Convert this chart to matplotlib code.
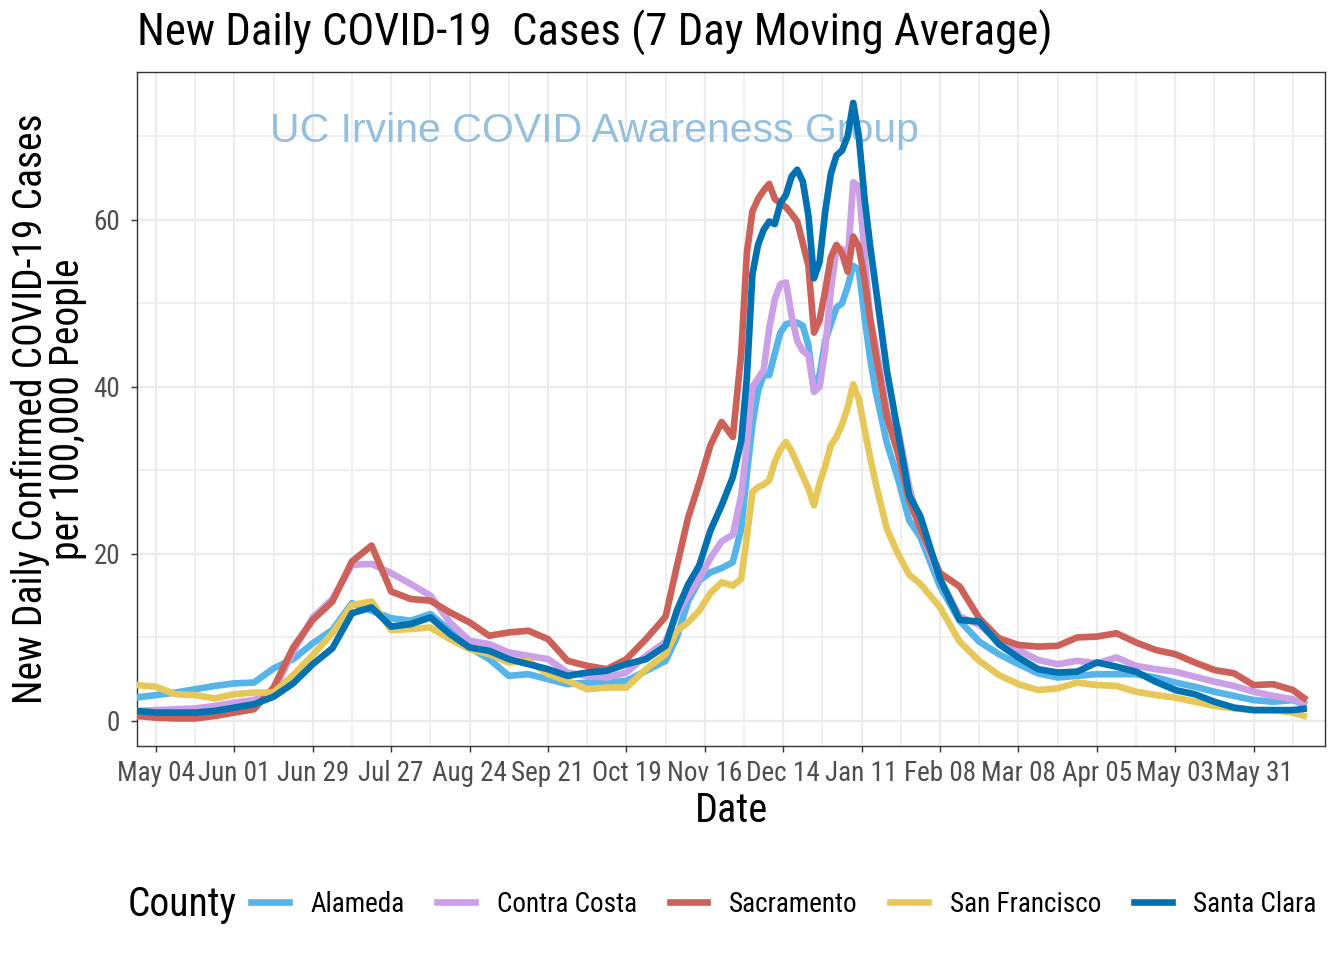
import matplotlib
matplotlib.use("Agg")
import matplotlib.pyplot as plt
import matplotlib.dates as mdates
from matplotlib.lines import Line2D
import pandas as pd

plt.rcParams["font.family"] = ["Roboto Condensed", "Liberation Sans", "DejaVu Sans"]

# sample dates: weekly, denser around the winter peak
dates = pd.DatetimeIndex(
    list(pd.date_range("2020-04-27", "2020-11-02", freq="7D"))
    + list(pd.date_range("2020-11-06", "2020-11-26", freq="4D"))
    + list(pd.date_range("2020-11-29", "2021-01-16", freq="2D"))
    + list(pd.date_range("2021-01-20", "2021-02-01", freq="4D"))
    + list(pd.date_range("2021-02-08", "2021-06-14", freq="7D"))
    + [pd.Timestamp("2021-06-19")]
)

alameda = [
    2.8, 3.1, 3.4, 3.8, 4.2, 4.5, 4.6, 6.3, 7.4, 9.3, 10.9, 14.1, 13.2, 12.3,
    12.0, 12.8, 10.8, 8.8, 7.4, 5.4, 5.6, 5.0, 4.4, 4.6, 4.6, 4.8, 6.0, 7.2,
    10.0, 14.3, 16.8, 17.8, 18.3, 19.0,
    23.0, 29.5, 35.5, 39.5, 41.4, 41.4, 44.0, 46.5, 47.5, 47.7, 47.7, 47.3, 45.0,
    39.5, 41.5, 45.5, 47.5, 49.5, 50.0, 52.0, 54.5, 54.0, 48.5, 43.5, 39.5,
    33.3, 29.0, 24.0, 22.0,
    16.1, 12.0, 9.5, 8.0, 6.8, 5.7, 5.2, 5.4, 5.6, 5.6, 5.6, 5.2, 4.6, 4.1,
    3.5, 3.0, 2.5, 2.3, 2.5, 1.9,
]
contra_costa = [
    1.2, 1.3, 1.4, 1.5, 1.8, 2.2, 2.5, 3.6, 8.3, 12.4, 14.6, 18.7, 18.8, 17.7,
    16.4, 15.0, 11.8, 9.6, 9.2, 8.2, 7.8, 7.4, 5.8, 5.4, 5.2, 5.8, 7.8, 9.5,
    12.8, 15.0, 17.0, 19.5, 21.5, 22.3,
    27.0, 33.0, 40.0, 41.0, 42.0, 47.0, 50.5, 52.3, 52.5, 48.5, 45.5, 44.3, 43.8,
    39.4, 40.0, 44.5, 51.5, 56.5, 56.5, 55.0, 64.5, 64.0, 56.0, 48.2, 45.0,
    37.0, 35.0, 28.0, 23.0,
    17.0, 12.5, 11.5, 9.5, 8.5, 7.3, 6.8, 7.2, 6.9, 7.6, 6.6, 6.2, 5.9, 5.3,
    4.7, 4.2, 3.5, 3.0, 2.6, 2.0,
]
sacramento = [
    0.6, 0.4, 0.3, 0.3, 0.6, 1.0, 1.4, 4.0, 8.8, 12.1, 14.3, 19.1, 21.0, 15.5,
    14.6, 14.4, 13.0, 11.8, 10.2, 10.6, 10.8, 9.8, 7.2, 6.6, 6.2, 7.4, 9.8, 12.5,
    18.5, 24.3, 28.5, 33.0, 35.8, 34.0,
    44.0, 56.0, 61.0, 62.5, 63.5, 64.3, 62.5, 62.0, 61.5, 60.7, 59.8, 57.2, 54.5,
    46.5, 48.0, 51.5, 55.5, 57.0, 56.0, 53.8, 58.0, 56.8, 53.0, 48.2, 44.0,
    36.5, 32.0, 26.5, 23.0,
    17.7, 16.1, 12.3, 9.9, 9.1, 8.9, 9.0, 10.0, 10.1, 10.5, 9.4, 8.5, 8.0, 7.0,
    6.1, 5.7, 4.3, 4.4, 3.7, 2.5,
]
san_francisco = [
    4.3, 4.1, 3.2, 3.1, 2.7, 3.2, 3.4, 3.4, 5.5, 7.9, 10.5, 13.9, 14.3, 10.9,
    11.0, 11.2, 9.8, 8.6, 8.0, 7.0, 7.2, 5.6, 4.8, 3.8, 4.0, 4.0, 6.2, 8.0,
    10.8, 11.8, 13.2, 15.3, 16.6, 16.2,
    17.0, 22.0, 27.4, 28.0, 28.3, 28.8, 31.0, 32.5, 33.4, 32.3, 30.8, 29.3, 27.8,
    25.8, 28.5, 30.5, 33.0, 34.0, 35.5, 37.5, 40.3, 38.5, 35.0, 31.6, 28.5,
    23.0, 20.0, 17.5, 16.4,
    13.6, 9.5, 7.2, 5.5, 4.4, 3.7, 3.9, 4.6, 4.3, 4.2, 3.5, 3.1, 2.8, 2.3,
    1.8, 1.5, 1.3, 1.3, 1.0, 0.5,
]
santa_clara = [
    1.2, 1.0, 1.0, 1.0, 1.2, 1.6, 2.0, 2.9, 4.5, 6.8, 8.7, 12.9, 13.6, 11.3,
    11.6, 12.4, 10.4, 8.8, 8.4, 7.4, 6.8, 6.2, 5.4, 5.8, 6.0, 6.8, 7.4, 9.0,
    13.2, 16.3, 18.6, 22.8, 25.8, 29.2,
    33.5, 41.0, 53.5, 57.0, 58.8, 59.8, 59.5, 62.0, 63.0, 65.2, 66.0, 64.6, 60.5,
    53.0, 55.0, 61.0, 65.5, 67.7, 68.3, 70.0, 74.0, 70.0, 62.7, 57.0, 52.0,
    42.0, 34.5, 27.0, 24.5,
    17.0, 12.1, 11.9, 9.2, 7.6, 6.2, 5.8, 5.9, 7.0, 6.5, 5.9, 4.7, 3.7, 3.2,
    2.3, 1.6, 1.3, 1.3, 1.3, 1.5,
]

counties = ["Alameda", "Contra Costa", "Sacramento", "San Francisco", "Santa Clara"]
series = [alameda, contra_costa, sacramento, san_francisco, santa_clara]
colors = ["#56B4E9", "#CCA0E6", "#CC6159", "#E6C85A", "#0072B2"]

major_ticks = pd.date_range("2020-05-04", "2021-05-31", freq="28D")
minor_ticks = pd.date_range("2020-05-18", "2021-06-14", freq="28D")

fig = plt.figure(figsize=(13.44, 9.6), dpi=100)
ax = fig.add_axes([0.1019, 0.2229, 0.8840, 0.7021])

for name, vals, col in zip(counties, series, colors):
    ax.plot(dates, vals, color=col, linewidth=4.8, solid_joinstyle="round",
            solid_capstyle="butt", label=name, zorder=3)

ax.text(0.112, 0.913, "UC Irvine COVID Awareness Group", transform=ax.transAxes,
        fontsize=29.5, color="#95BFDC", family=["Liberation Sans", "DejaVu Sans"],
        ha="left", va="center", zorder=2)

ax.set_xlim(pd.Timestamp("2020-04-27 05:00"), pd.Timestamp("2021-06-25 12:00"))
ax.set_ylim(-3.0, 77.7)
ax.set_xticks(major_ticks)
ax.set_xticks(minor_ticks, minor=True)
ax.xaxis.set_major_formatter(mdates.DateFormatter("%b %d"))
ax.set_yticks([0, 20, 40, 60])
ax.set_yticks([10, 30, 50, 70], minor=True)

ax.grid(which="major", color="#EBEBEB", linewidth=1.6, zorder=0)
ax.grid(which="minor", color="#EBEBEB", linewidth=1.1, zorder=0)
ax.set_axisbelow(True)
for sp in ax.spines.values():
    sp.set_color("#333333")
    sp.set_linewidth(1.0)
ax.tick_params(which="major", length=4, width=1.0, color="#333333",
               labelsize=19.5, labelcolor="#4D4D4D")
ax.tick_params(axis="x", which="major", pad=6)
ax.tick_params(axis="y", which="major", pad=8)
ax.tick_params(which="minor", length=0)

ax.set_xlabel("Date", fontsize=29, color="black", va="center")
ax.xaxis.set_label_coords(0.5, -0.095)
ax.set_ylabel("New Daily Confirmed COVID-19 Cases\nper 100,000 People",
              fontsize=28.5, color="black", va="center", linespacing=0.95)
ax.yaxis.set_label_coords(-0.074, 0.5)
fig.text(137 / 1344, 1 - 46 / 960, "New Daily COVID-19  Cases (7 Day Moving Average)",
         fontsize=32.3, ha="left", va="baseline")

handles = [Line2D([], [], color=c, linewidth=4.8) for c in colors]
fig.text(128 / 1344, 1 - 904 / 960, "County", fontsize=28.5, ha="left", va="center")
fig.legend(handles, counties, loc="center left", bbox_to_anchor=(251 / 1344, 1 - 904 / 960),
           ncol=5, frameon=False, fontsize=19.5, handlelength=1.4,
           handletextpad=0.8, columnspacing=1.2, borderaxespad=0, borderpad=0)

fig.savefig("out.png", dpi=100)
